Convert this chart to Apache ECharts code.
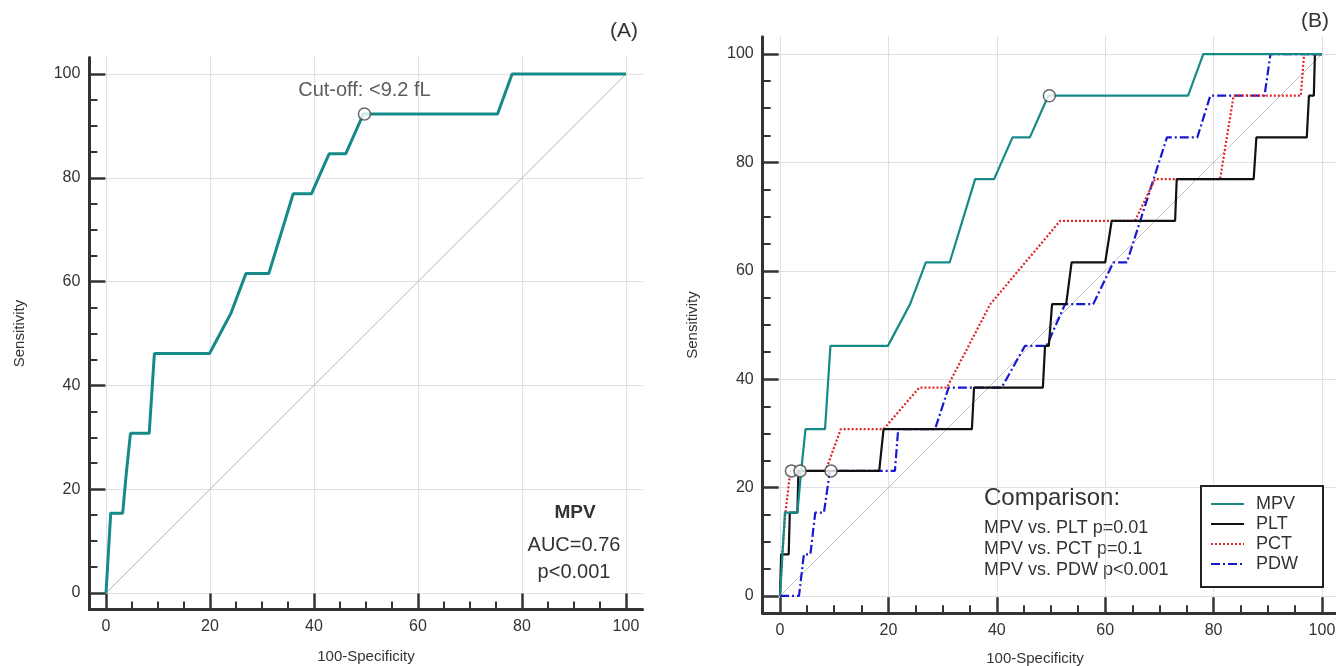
<!DOCTYPE html>
<html><head><meta charset="utf-8">
<script src="https://cdn.jsdelivr.net/npm/echarts@6/dist/echarts.min.js"></script>
<style>html,body{margin:0;padding:0;background:#fff}#c{width:1336px;height:666px}</style>
</head><body><div id="c"></div><script>
// ---- data (x = 100-Specificity, y = Sensitivity) ----
const mpvX = [0,0.9,3.2,3.9,4.7,8.3,9.3,19.9,24.0,26.9,31.3,36.0,39.5,42.9,46.1,49.5,75.3,78.1,100];
const mpvY = [0,15.38,15.38,23.08,30.77,30.77,46.15,46.15,53.85,61.54,61.54,76.92,76.92,84.62,84.62,92.31,92.31,100,100];
const pltX = [0,0.2,1.6,1.8,3.2,3.4,18.3,19.1,35.4,35.8,48.5,48.9,49.6,50.2,52.8,53.8,60.0,61.2,72.9,73.2,87.4,87.9,97.2,97.6,98.5,98.7,100];
const pltY = [0,7.69,7.69,15.38,15.38,23.08,23.08,30.77,30.77,38.46,38.46,46.15,46.15,53.85,53.85,61.54,61.54,69.23,69.23,76.92,76.92,84.62,84.62,92.31,92.31,100,100];
const pctX = [0,0.4,1.0,1.9,8.4,11.2,19.1,25.7,30.8,38.8,51.7,65.5,69.2,81.2,83.7,96.1,96.7,100];
const pctY = [0,7.69,15.38,23.08,23.08,30.77,30.77,38.46,38.46,53.85,69.23,69.23,76.92,76.92,92.31,92.31,100,100];
const pdwX = [0,3.5,4.4,5.6,6.5,8.1,9.2,21.2,21.8,28.6,31.1,40.9,45.2,49.2,52.6,57.8,61.5,64.0,71.4,77.0,79.4,89.4,90.5,100];
const pdwY = [0,0,7.69,7.69,15.38,15.38,23.08,23.08,30.77,30.77,38.46,38.46,46.15,46.15,53.85,53.85,61.54,61.54,84.62,84.62,92.31,92.31,100,100];
const refX = [0,100];
const refY = [0,100];
// cut-off points
const cutMpv = [49.7, 92.31];
const cutPct = [2.1, 23.08];
const cutPlt = [3.7, 23.08];
const cutPdw = [9.4, 23.08];
// ticks
const majorTicks = [0,20,40,60,80,100];
const minorTicks = [5,10,15,25,30,35,45,50,55,65,70,75,85,90,95];
const legendNames = ['MPV','PLT','PCT','PDW'];
const comparisonLines = ['MPV vs. PLT p=0.01','MPV vs. PCT p=0.1','MPV vs. PDW p<0.001'];

const FONT = '"Liberation Sans", Arial, Helvetica, sans-serif';
const TXT = '#333';
const zip = (xs, ys) => xs.map((x, i) => [x, ys[i]]);

function axisPair(dim, gi, name, nameGap) {
  const isX = dim === 'x';
  const major = {
    type: 'value', gridIndex: gi, min: -3.2, max: 103.2,
    position: isX ? 'bottom' : 'left',
    axisLine: { show: true, onZero: false, lineStyle: { color: '#333', width: 3 } },
    axisTick: { show: true, inside: true, length: 16, customValues: majorTicks, lineStyle: { color: '#333', width: 2.5 } },
    axisLabel: { show: true, customValues: majorTicks, margin: 9, fontSize: 16, color: TXT, fontFamily: FONT },
    splitLine: { show: true, lineStyle: { color: '#c4c4c4', type: 'dotted', width: 1 } },
    name: name, nameLocation: 'middle', nameGap: nameGap,
    nameTextStyle: { fontSize: 15, color: TXT, fontFamily: FONT }
  };
  const minor = {
    type: 'value', gridIndex: gi, min: -3.2, max: 103.2,
    position: isX ? 'bottom' : 'left',
    axisLine: { show: false, onZero: false },
    axisTick: { show: true, inside: true, length: 8, customValues: minorTicks, lineStyle: { color: '#333', width: 2 } },
    axisLabel: { show: false },
    splitLine: { show: false }
  };
  return [major, minor];
}

const [xa0, xa0m] = axisPair('x', 0, '100-Specificity', 40);
const [ya0, ya0m] = axisPair('y', 0, 'Sensitivity', 62);
const [xa1, xa1m] = axisPair('x', 1, '100-Specificity', 38);
const [ya1, ya1m] = axisPair('y', 1, 'Sensitivity', 62);
xa1.nameTextStyle = Object.assign({}, xa1.nameTextStyle, { padding: [0, 32, 0, 0] });

const circle = { symbol: 'circle', symbolSize: 12, itemStyle: { color: '#fff', borderColor: '#444', borderWidth: 1.5 } };

const chart = echarts.init(document.getElementById('c'), null, { renderer: 'canvas' });
chart.setOption({
  backgroundColor: '#fff',
  animation: false,
  textStyle: { fontFamily: FONT },
  grid: [
    { left: 89.4, right: 693.4, top: 57.4, bottom: 56.4, outerBoundsMode: 'none' },
    { left: 762.7, right: -3.3, top: 36.7, bottom: 52.7, outerBoundsMode: 'none' }
  ],
  xAxis: [xa0, xa0m, xa1, xa1m],
  yAxis: [ya0, ya0m, ya1, ya1m],
  legend: {
    data: legendNames, orient: 'vertical', left: 1201, top: 486,
    itemWidth: 33, itemHeight: 14, itemGap: 0,
    padding: [8, 25, 13, 9], borderColor: '#222', borderWidth: 2, backgroundColor: '#fff',
    itemStyle: { color: 'transparent', borderColor: 'transparent', borderWidth: 0, opacity: 0 },
    textStyle: { fontSize: 18, lineHeight: 20, color: TXT, fontFamily: FONT, padding: [0, 0, 0, 7] },
    selectedMode: false
  },
  graphic: [
    { type: 'text', left: 610, top: 21, style: { text: '(A)', fontSize: 21, fill: TXT, fontFamily: FONT } },
    { type: 'text', left: 1301, top: 11, style: { text: '(B)', fontSize: 21, fill: TXT, fontFamily: FONT } },
    { type: 'text', x: 575, y: 513, style: { text: 'MPV', fontSize: 19, fontWeight: 'bold', fill: TXT, fontFamily: FONT, align: 'center', verticalAlign: 'middle' } },
    { type: 'text', x: 574, y: 545, style: { text: 'AUC=0.76', fontSize: 20, fill: TXT, fontFamily: FONT, align: 'center', verticalAlign: 'middle' } },
    { type: 'text', x: 574, y: 572, style: { text: 'p<0.001', fontSize: 20, fill: TXT, fontFamily: FONT, align: 'center', verticalAlign: 'middle' } },
    { type: 'text', left: 984, top: 486, style: { text: 'Comparison:', fontSize: 24, fill: TXT, fontFamily: FONT } },
    { type: 'text', left: 984, top: 518, style: { text: comparisonLines.join('\n'), fontSize: 18, lineHeight: 21, fill: TXT, fontFamily: FONT } }
  ],
  series: [
    { type: 'line', name: 'ref A', xAxisIndex: 0, yAxisIndex: 0, data: zip(refX, refY), symbol: 'none', lineStyle: { color: '#b5b5b5', width: 1 }, z: 1, silent: true },
    { type: 'line', name: 'MPV (A)', xAxisIndex: 0, yAxisIndex: 0, data: zip(mpvX, mpvY), symbol: 'none', lineStyle: { color: '#168a89', width: 3 }, z: 3 },
    Object.assign({ type: 'scatter', name: 'cut A', xAxisIndex: 0, yAxisIndex: 0, data: [cutMpv], z: 5,
      label: { show: true, position: 'top', distance: 7, formatter: 'Cut-off: <9.2 fL', fontSize: 20, color: '#333', fontFamily: FONT } }, circle),

    { type: 'line', name: 'ref B', xAxisIndex: 2, yAxisIndex: 2, data: zip(refX, refY), symbol: 'none', lineStyle: { color: '#c4c4c4', width: 1 }, z: 1, silent: true },
    { type: 'line', name: 'PDW', xAxisIndex: 2, yAxisIndex: 2, data: zip(pdwX, pdwY), symbol: 'none', color: '#1818d0', lineStyle: { color: '#1818d0', width: 2.2, type: [9, 3, 2, 3] }, z: 3 },
    { type: 'line', name: 'PCT', xAxisIndex: 2, yAxisIndex: 2, data: zip(pctX, pctY), symbol: 'none', color: '#e02424', lineStyle: { color: '#e02424', width: 2.2, type: [2, 2] }, z: 3 },
    { type: 'line', name: 'PLT', xAxisIndex: 2, yAxisIndex: 2, data: zip(pltX, pltY), symbol: 'none', color: '#111', lineStyle: { color: '#111', width: 2.2 }, z: 3 },
    { type: 'line', name: 'MPV', xAxisIndex: 2, yAxisIndex: 2, data: zip(mpvX, mpvY), symbol: 'none', color: '#168a89', lineStyle: { color: '#168a89', width: 2.2 }, z: 3 },
    Object.assign({ type: 'scatter', name: 'cut B', xAxisIndex: 2, yAxisIndex: 2, data: [cutMpv, cutPct, cutPlt, cutPdw], z: 5 }, circle)
  ]
});
</script></body></html>
